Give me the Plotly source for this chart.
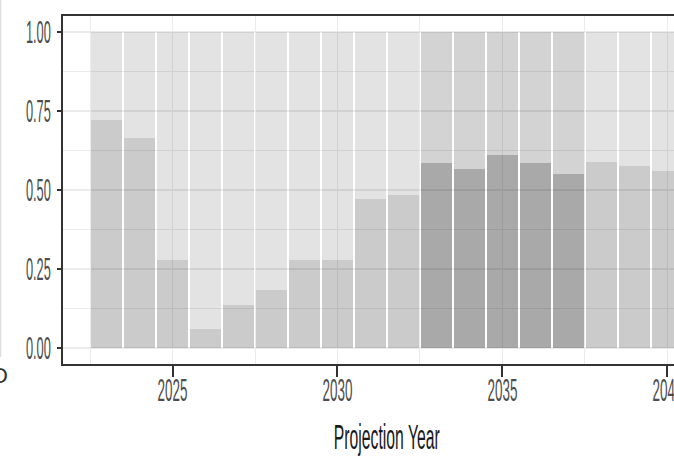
import plotly.graph_objects as go

# Projection years and the projected proportion for each year
years = [2023, 2024, 2025, 2026, 2027, 2028, 2029, 2030, 2031, 2032,
         2033, 2034, 2035, 2036, 2037, 2038, 2039, 2040]
proportion = [0.72, 0.665, 0.28, 0.06, 0.135, 0.185, 0.28, 0.28, 0.47, 0.485,
              0.585, 0.565, 0.61, 0.585, 0.55, 0.59, 0.575, 0.56]
# Years drawn in the darker shade
highlight_years = [2033, 2034, 2035, 2036, 2037]

y_ticks = [0.0, 0.25, 0.5, 0.75, 1.0]
x_ticks = [2025, 2030, 2035, 2040]

remainder = [1 - p for p in proportion]
lower_cols = ["rgba(0,0,0,0.337)" if y in highlight_years else "rgba(0,0,0,0.204)" for y in years]
upper_cols = ["rgba(0,0,0,0.173)" if y in highlight_years else "rgba(0,0,0,0.11)" for y in years]

fig = go.Figure()
fig.add_trace(go.Bar(x=years, y=proportion, width=0.94,
                     marker=dict(color=lower_cols, line=dict(width=0)),
                     showlegend=False, hoverinfo="skip"))
fig.add_trace(go.Bar(x=years, y=remainder, width=0.94,
                     marker=dict(color=upper_cols, line=dict(width=0)),
                     showlegend=False, hoverinfo="skip"))

axis_col = "#333333"
grid_col = "#EBEBEB"
fig.update_layout(
    barmode="stack",
    width=674, height=458,
    margin=dict(l=63, r=0, t=16, b=94, pad=0),
    paper_bgcolor="white", plot_bgcolor="white",
    font=dict(family="Liberation Sans, Arial, sans-serif", color="#4D4D4D"),
    xaxis=dict(
        range=[2021.68, 2040.2], automargin=False,
        tickmode="array", tickvals=x_ticks, ticktext=[str(v) for v in x_ticks],
        ticks="outside", ticklen=11, tickwidth=1.5, tickcolor=axis_col,
        tickfont=dict(size=32, color="#4D4D4D"),
        ticklabeloverflow="allow", ticklabelstandoff=-14,
        showline=True, linecolor=axis_col, linewidth=1.8, mirror=True,
        showgrid=True, gridcolor=grid_col, gridwidth=1,
        minor=dict(tickmode="linear", tick0=2022.5, dtick=2.5, showgrid=True,
                   gridcolor=grid_col, gridwidth=0.8, ticks=""),
        zeroline=False,
    ),
    yaxis=dict(
        range=[-0.05, 1.05], automargin=False,
        tickmode="array", tickvals=y_ticks, ticktext=["%.2f" % v for v in y_ticks],
        ticks="outside", ticklen=4, tickwidth=2, tickcolor=axis_col,
        tickfont=dict(size=32, color="#4D4D4D"),
        showline=True, linecolor=axis_col, linewidth=1.5,
        showgrid=True, gridcolor=grid_col, gridwidth=2,
        minor=dict(tickmode="linear", tick0=0.125, dtick=0.25, showgrid=True,
                   gridcolor=grid_col, gridwidth=1, ticks=""),
        zeroline=False,
    ),
    shapes=[dict(type="line", xref="paper", yref="paper",
                 x0=-0.1023, x1=-0.1023, y0=1.046, y1=0.02,
                 line=dict(color="#DDDDDD", width=1.5))],
    annotations=[
        # axis title, centred on the full year span of the panel
        dict(text="Projection Year", xref="x", yref="paper", x=2031.5, y=-0.209,
             xanchor="center", yanchor="middle", showarrow=False,
             font=dict(size=35, color="#1A1A1A")),
        dict(text="D", xref="paper", yref="paper", x=-0.0867, y=-0.032,
             xanchor="right", yanchor="middle", showarrow=False,
             font=dict(size=22, color="#333333")),
    ],
)

# Condense the axis text horizontally around each label's anchor point
squeeze_js = """
var gd = document.getElementById('{plot_id}');
function squeezeEl(el, s) {
  var b = el.getBBox();
  var a = el.getAttribute('text-anchor');
  var ax = a === 'end' ? b.x + b.width : (a === 'start' ? b.x : b.x + b.width / 2);
  var t = el.getAttribute('transform') || '';
  el.setAttribute('transform', t + ' translate(' + ax + ',0) scale(' + s + ',1) translate(' + (-ax) + ',0)');
}
gd.querySelectorAll('.xtick text').forEach(function (el) { squeezeEl(el, 0.42); });
gd.querySelectorAll('.ytick text').forEach(function (el) { squeezeEl(el, 0.40); });
var ann = gd.querySelectorAll('.annotation-text');
if (ann.length) { squeezeEl(ann[0], 0.45); }
"""

fig.write_html("out.html", post_script=squeeze_js)
